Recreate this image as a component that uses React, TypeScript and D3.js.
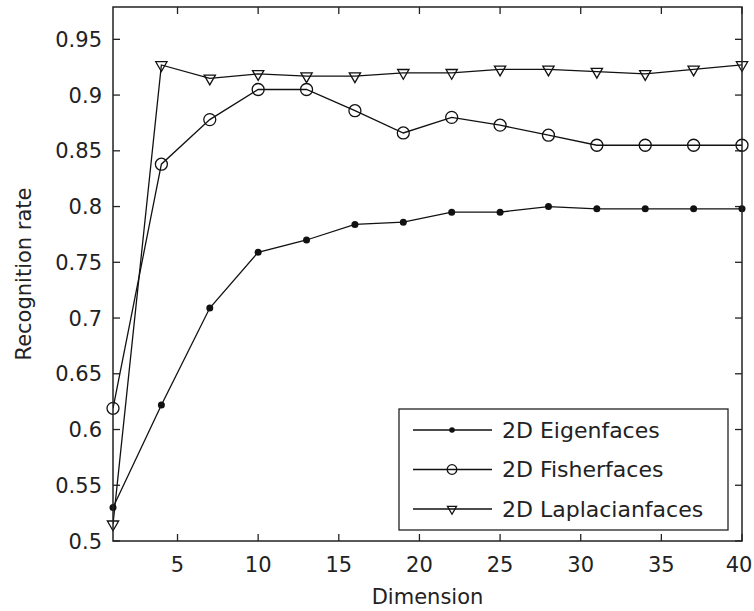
import React, { useEffect, useRef } from "react";
import * as d3 from "d3";

// dimension values used on the x axis
const dims = [1, 4, 7, 10, 13, 16, 19, 22, 25, 28, 31, 34, 37, 40];

// recognition rates
const eigenfaces = [0.53, 0.622, 0.709, 0.759, 0.77, 0.784, 0.786, 0.795, 0.795, 0.8, 0.798, 0.798, 0.798, 0.798];
const fisherfaces = [0.619, 0.838, 0.878, 0.905, 0.905, 0.886, 0.866, 0.88, 0.873, 0.864, 0.855, 0.855, 0.855, 0.855];
const laplacianfaces = [0.515, 0.927, 0.915, 0.919, 0.917, 0.917, 0.92, 0.92, 0.923, 0.923, 0.921, 0.919, 0.923, 0.927];

const seriesNames = ["2D Eigenfaces", "2D Fisherfaces", "2D Laplacianfaces"];
const xTicks = [5, 10, 15, 20, 25, 30, 35, 40];
const yTicks = [0.5, 0.55, 0.6, 0.65, 0.7, 0.75, 0.8, 0.85, 0.9, 0.95];

const W = 754;
const H = 611;
const FONT = "'DejaVu Sans', sans-serif";
const FS = 21;

export default function App() {
  const ref = useRef<SVGSVGElement>(null);

  useEffect(() => {
    const m = { top: 7, right: 12, bottom: 70, left: 113 };
    const svg = d3.select(ref.current);
    svg.selectAll("*").remove();

    const x = d3.scaleLinear().domain([1, 40]).range([m.left, W - m.right]);
    const y = d3.scaleLinear().domain([0.5, 0.979]).range([H - m.bottom, m.top]);
    const x0 = m.left, x1 = W - m.right, y0 = H - m.bottom, y1 = m.top;

    svg.append("rect").attr("width", W).attr("height", H).attr("fill", "#fff");

    svg
      .append("clipPath")
      .attr("id", "plotclip")
      .append("rect")
      .attr("x", x0)
      .attr("y", y1)
      .attr("width", x1 - x0)
      .attr("height", y0 - y1);

    const tickLen = 7;
    const axes = svg.append("g").attr("stroke", "#222").attr("stroke-width", 1.3);
    xTicks.forEach((t) => {
      axes.append("line").attr("x1", x(t)).attr("x2", x(t)).attr("y1", y0).attr("y2", y0 - tickLen);
      axes.append("line").attr("x1", x(t)).attr("x2", x(t)).attr("y1", y1).attr("y2", y1 + tickLen);
    });
    yTicks.forEach((t) => {
      axes.append("line").attr("x1", x0).attr("x2", x0 + tickLen).attr("y1", y(t)).attr("y2", y(t));
      axes.append("line").attr("x1", x1).attr("x2", x1 - tickLen).attr("y1", y(t)).attr("y2", y(t));
    });

    const txt = svg.append("g").attr("font-family", FONT).attr("font-size", FS).attr("fill", "#222");
    xTicks.forEach((t) => {
      // keep the last label inside the picture
      const tx = Math.min(x(t), W - 15);
      txt.append("text").attr("x", tx).attr("y", 572).attr("text-anchor", "middle").text(t);
    });
    yTicks.forEach((t) => {
      txt
        .append("text")
        .attr("x", 102)
        .attr("y", y(t))
        .attr("dy", "0.36em")
        .attr("text-anchor", "end")
        .text(d3.format("")(t));
    });
    txt
      .append("text")
      .attr("x", (x0 + x1) / 2)
      .attr("y", 604)
      .attr("text-anchor", "middle")
      .text("Dimension");
    txt
      .append("text")
      .attr("transform", `translate(31,${(y0 + y1) / 2}) rotate(-90)`)
      .attr("text-anchor", "middle")
      .text("Recognition rate");

    const line = d3
      .line<number>()
      .x((d, i) => x(dims[i]))
      .y((d) => y(d));

    const plot = svg.append("g").attr("clip-path", "url(#plotclip)");
    const all = [eigenfaces, fisherfaces, laplacianfaces];
    all.forEach((vals) => {
      plot
        .append("path")
        .datum(vals)
        .attr("fill", "none")
        .attr("stroke", "#111")
        .attr("stroke-width", 1.3)
        .attr("d", line);
    });

    const tri = (size: number) => d3.symbol(d3.symbolTriangle, size)();

    const drawMarker = (g: any, k: number, cx: number, cy: number, s: number) => {
      if (k === 0) {
        g.append("circle").attr("cx", cx).attr("cy", cy).attr("r", 3.5 * s).attr("fill", "#111");
      } else if (k === 1) {
        g.append("circle")
          .attr("cx", cx)
          .attr("cy", cy)
          .attr("r", 6 * s)
          .attr("fill", "none")
          .attr("stroke", "#111")
          .attr("stroke-width", 1.3);
      } else {
        g.append("path")
          .attr("d", tri(55 * s * s))
          .attr("transform", `translate(${cx},${cy}) rotate(180)`)
          .attr("fill", "none")
          .attr("stroke", "#111")
          .attr("stroke-width", 1.3);
      }
    };

    all.forEach((vals, k) => {
      vals.forEach((v, i) => drawMarker(svg, k, x(dims[i]), y(v), 1));
    });

    // frame
    svg
      .append("rect")
      .attr("x", x0)
      .attr("y", y1)
      .attr("width", x1 - x0)
      .attr("height", y0 - y1)
      .attr("fill", "none")
      .attr("stroke", "#222")
      .attr("stroke-width", 1.5);

    // legend
    const lg = svg.append("g");
    lg.append("rect")
      .attr("x", 399)
      .attr("y", 409)
      .attr("width", 329)
      .attr("height", 121)
      .attr("fill", "#fff")
      .attr("stroke", "#222")
      .attr("stroke-width", 1.3);
    seriesNames.forEach((name, k) => {
      const ly = 430 + k * 39.5;
      lg.append("line")
        .attr("x1", 413)
        .attr("x2", 492)
        .attr("y1", ly)
        .attr("y2", ly)
        .attr("stroke", "#111")
        .attr("stroke-width", 1.3);
      drawMarker(lg, k, 452, ly, 0.8);
      lg.append("text")
        .attr("x", 502)
        .attr("y", ly)
        .attr("dy", "0.36em")
        .attr("font-family", FONT)
        .attr("font-size", 22)
        .attr("fill", "#222")
        .text(name);
    });

    return () => {
      svg.selectAll("*").remove();
    };
  }, []);

  return (
    <svg
      ref={ref}
      width={W}
      height={H}
      style={{ position: "absolute", left: 0, top: 0, display: "block" }}
    />
  );
}
